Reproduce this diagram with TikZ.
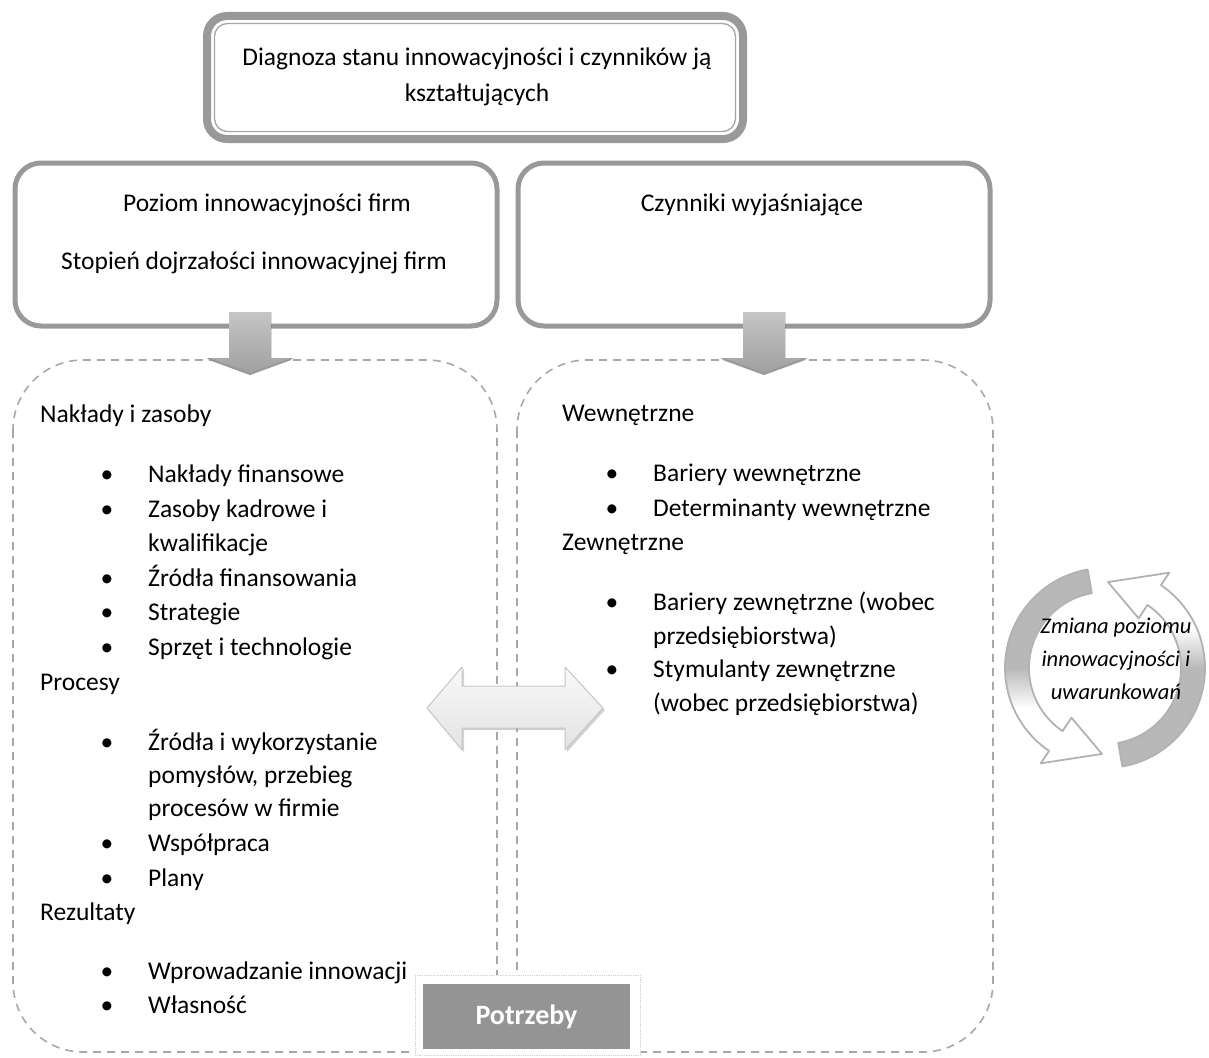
\documentclass[tikz,border=0pt]{standalone}
\usepackage{fontspec}
\setmainfont{Carlito}
\usetikzlibrary{shadows}
\definecolor{frame}{gray}{0.6}
\definecolor{dash}{gray}{0.66}
\definecolor{cyc}{gray}{0.72}
\begin{document}
\begin{tikzpicture}[x=1pt,y=-1pt,
  txt/.style={font=\fontsize{25.5}{30}\selectfont, inner sep=0pt, anchor=base west},
  ctxt/.style={font=\fontsize{25.5}{30}\selectfont, inner sep=0pt, anchor=base},
  bul/.style={font=\fontsize{25.5}{30}\selectfont, inner sep=0pt, anchor=base},
  midbox/.style={draw=frame, line width=5pt, rounded corners=26pt, fill=white, inner sep=0pt},
  dashbox/.style={draw=dash, line width=1.6pt, dash pattern=on 8pt off 6pt, rounded corners=70pt},
  downarrow/.style={top color=gray!45, bottom color=gray!75, draw=none},
  cycline/.style={draw=gray!60, line width=1.8pt, line join=round},
]
\useasboundingbox (0,0) rectangle (1209,1057);

% top box
\node[draw=frame, line width=8pt, rounded corners=20pt, fill=white, minimum width=536pt, minimum height=123pt, inner sep=0pt] (top) at (475,77.5) {};
\node[draw=gray!70, line width=1.3pt, rounded corners=13pt, minimum width=521pt, minimum height=108pt, inner sep=0pt] (topin) at (475,77.5) {};
\node[ctxt] (t1) at (477,65) {Diagnoza stanu innowacyjności i czynników ją};
\node[ctxt] (t2) at (477,101) {kształtujących};

% middle boxes
\node[midbox, minimum width=482pt, minimum height=163pt] (lbox) at (256,244.5) {};
\node[midbox, minimum width=472pt, minimum height=163pt] (rbox) at (754,244.5) {};
\node[ctxt] (l1) at (267,211) {Poziom innowacyjności firm};
\node[ctxt] (l2) at (254,269) {Stopień dojrzałości innowacyjnej firm};
\node[ctxt] (r1) at (752,211) {Czynniki wyjaśniające};

% dashed boxes
\draw[dashbox] (13,360) rectangle (497,1052);
\draw[dashbox] (517,360) rectangle (993,1052);

% down arrows
\fill[downarrow] (229,312) -- (271,312) -- (271,358) -- (293,358) -- (250,374) -- (207,358) -- (229,358) -- cycle;
\draw[gray!80, line width=2pt, line join=round] (209,359) -- (250,374) -- (291,359);
\fill[downarrow] (743,312) -- (785,312) -- (785,358) -- (807,358) -- (764,374) -- (721,358) -- (743,358) -- cycle;
\draw[gray!80, line width=2pt, line join=round] (723,359) -- (764,374) -- (805,359);

% left list
\node[txt] (h1) at (40,422) {Nakłady i zasoby};
\node[bul] (b1) at (107,482) {•};
\node[txt] (a1) at (148,482) {Nakłady finansowe};
\node[bul] (b2) at (107,517) {•};
\node[txt] (a2) at (148,517) {Zasoby kadrowe i};
\node[txt] (a2b) at (148,551) {kwalifikacje};
\node[bul] (b3) at (107,586) {•};
\node[txt] (a3) at (148,586) {Źródła finansowania};
\node[bul] (b4) at (107,620) {•};
\node[txt] (a4) at (148,620) {Strategie};
\node[bul] (b5) at (107,655) {•};
\node[txt] (a5) at (148,655) {Sprzęt i technologie};
\node[txt] (h2) at (40,690) {Procesy};
\node[bul] (b6) at (107,750) {•};
\node[txt] (a6) at (148,750) {Źródła i wykorzystanie};
\node[txt] (a6b) at (148,783) {pomysłów, przebieg};
\node[txt] (a6c) at (148,816) {procesów w firmie};
\node[bul] (b7) at (107,851) {•};
\node[txt] (a7) at (148,851) {Współpraca};
\node[bul] (b8) at (107,886) {•};
\node[txt] (a8) at (148,886) {Plany};
\node[txt] (h3) at (40,920) {Rezultaty};
\node[bul] (b9) at (107,979) {•};
\node[txt] (a9) at (148,979) {Wprowadzanie innowacji};
\node[bul] (b10) at (107,1013) {•};
\node[txt] (a10) at (148,1013) {Własność};

% right list
\node[txt] (g1) at (562,421) {Wewnętrzne};
\node[bul] (c1) at (612,481) {•};
\node[txt] (d1) at (653,481) {Bariery wewnętrzne};
\node[bul] (c2) at (612,516) {•};
\node[txt] (d2) at (653,516) {Determinanty wewnętrzne};
\node[txt] (g2) at (562,550) {Zewnętrzne};
\node[bul] (c3) at (612,610) {•};
\node[txt] (d3) at (653,610) {Bariery zewnętrzne (wobec};
\node[txt] (d3b) at (653,644) {przedsiębiorstwa)};
\node[bul] (c4) at (612,677) {•};
\node[txt] (d4) at (653,677) {Stymulanty zewnętrzne};
\node[txt] (d4b) at (653,711) {(wobec przedsiębiorstwa)};

% double arrow
\draw[gray!45, line width=1pt, line join=round, top color=gray!5, bottom color=gray!22,
  drop shadow={opacity=0.35, shadow xshift=2pt, shadow yshift=-2pt}]
  (427,708) -- (462,667) -- (462,686) -- (565,686) -- (565,667) -- (603,708)
  -- (565,750) -- (565,728) -- (462,728) -- (462,750) -- cycle;

% Potrzeby
\node[draw=gray!35, densely dotted, line width=0.8pt, fill=white, minimum width=225pt, minimum height=80pt, inner sep=0pt] (pout) at (527.5,1015) {};
\node[fill=black!42, minimum width=207pt, minimum height=65pt, inner sep=0pt, text=white,
  font=\fontsize{28}{30}\selectfont\bfseries] (potrzeby) at (526.5,1016.5) {Potrzeby};

% cycle arrows
\begin{scope}[shift={(1105,668)}, y={(0pt,1pt)}]
  \def\arrL{(100:100) arc[start angle=100, end angle=236, radius=100] -- (236:115) -- (268:86)
    -- (236:60) -- (236:76) arc[start angle=236, end angle=100, radius=76] -- cycle}
  \def\arrR{(280:100) arc[start angle=280, end angle=416, radius=100] -- (56:115) -- (88:86)
    -- (56:60) -- (56:76) arc[start angle=56, end angle=-80, radius=76] -- cycle}
  \fill[white] \arrL;
  \fill[white] \arrR;
  \begin{scope}
    \clip \arrL;
    \fill[cyc] (-130,0) rectangle (10,130);
    \shade[top color=cyc, bottom color=white] (-130,0.5) rectangle (10,-40);
  \end{scope}
  \begin{scope}
    \clip \arrR;
    \fill[cyc] (130,0) rectangle (-10,-130);
    \shade[bottom color=cyc, top color=white] (130,-0.5) rectangle (-10,40);
  \end{scope}
  \draw[cycline] \arrL;
  \draw[cycline] \arrR;
\end{scope}
\node[ctxt, font=\fontsize{22.5}{26}\selectfont\itshape] (z1) at (1116,633) {Zmiana poziomu};
\node[ctxt, font=\fontsize{22.5}{26}\selectfont\itshape] (z2) at (1116,666) {innowacyjności i};
\node[ctxt, font=\fontsize{22.5}{26}\selectfont\itshape] (z3) at (1116,699) {uwarunkowań};
\end{tikzpicture}
\end{document}
